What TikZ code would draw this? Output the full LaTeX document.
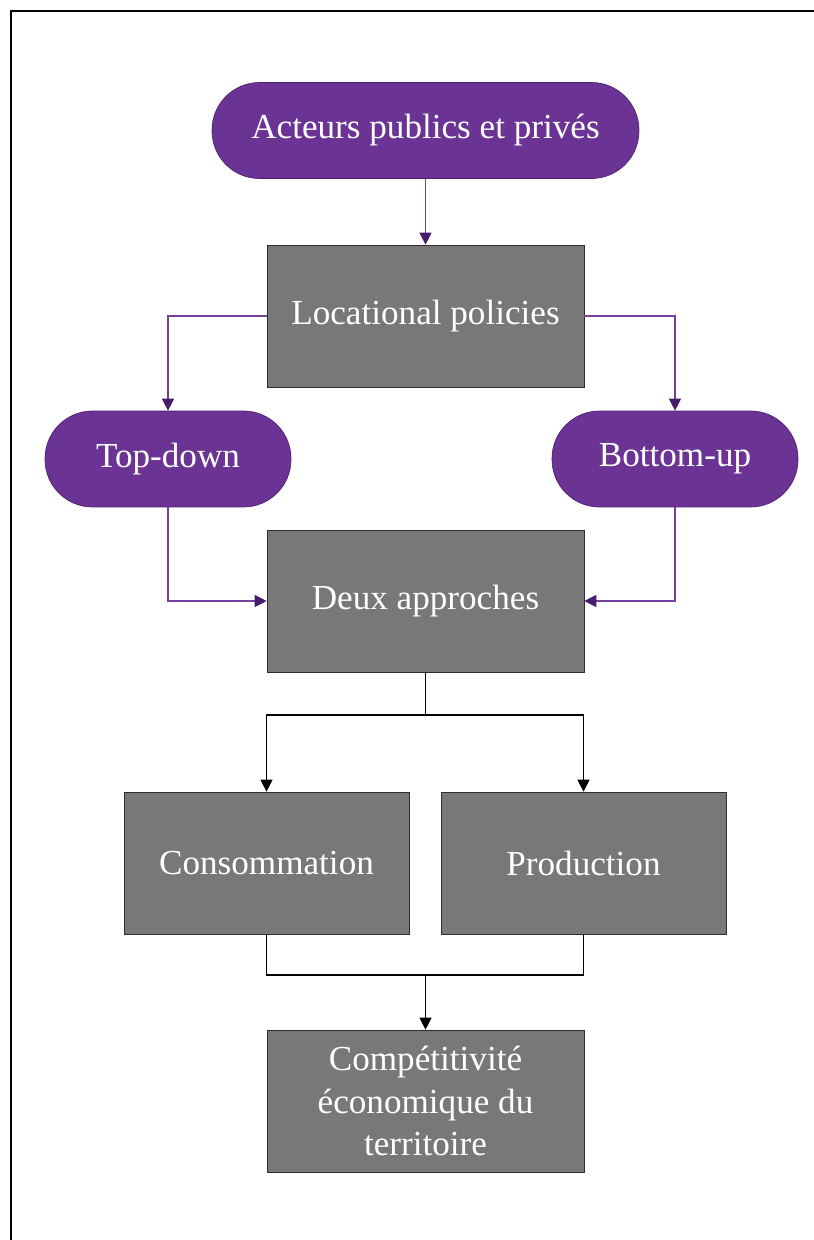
\documentclass[tikz,border=0pt]{standalone}
\usepackage{fontspec}
\setmainfont{Liberation Serif}
\usetikzlibrary{arrows.meta}
\definecolor{pillfill}{RGB}{107,52,148}
\definecolor{pilldraw}{RGB}{78,32,115}
\definecolor{boxfill}{RGB}{120,120,120}
\definecolor{boxdraw}{RGB}{45,45,45}
\definecolor{purpleline}{RGB}{115,64,155}
\definecolor{purpletip}{RGB}{72,28,108}

\begin{document}
\begin{tikzpicture}[x=0.02cm,y=-0.02cm,line join=miter,
  every node/.style={font=\fontsize{20}{24}\selectfont,text=white},
  pill/.style={draw=pilldraw,fill=pillfill,rounded corners=0.95cm,
    minimum height=1.92cm,inner sep=0pt},
  box/.style={draw=boxdraw,fill=boxfill,minimum width=6.34cm,
    minimum height=2.84cm,inner sep=0pt,align=center},
  plink/.style={draw=purpleline,line width=0.7pt,
    -{Triangle[length=6.8pt,width=6.8pt,color=purpletip]}},
  blink/.style={draw=black,line width=0.7pt,
    -{Triangle[length=6.8pt,width=6.8pt]}}]
  \useasboundingbox (0,0) rectangle (814,1240);
  % page frame (only top and left edges show)
  \draw[line width=1.7pt] (11,1260) -- (11,11) -- (830,11);

  % actors and the two approaches
  \node[pill,minimum width=8.54cm] (acteurs) at (425.5,130.5) {Acteurs publics et privés};
  \node[box] (policies) at (425.5,316) {Locational policies};
  \node[pill,minimum width=4.92cm] (topdown) at (168,459) {Top-down};
  \node[pill,minimum width=4.92cm] (bottomup) at (675,459) {Bottom-up};
  \node[box] (approches) at (425.5,601) {Deux approches};

  % consumption / production and the outcome
  \node[box,minimum width=5.7cm] (conso) at (266.5,863) {Consommation};
  \node[box,minimum width=5.7cm] (prod) at (583.5,863) {Production};
  \node[box] (compet) at (425.5,1101) {Compétitivité\\économique du\\territoire};
  \coordinate (split) at (425.5,715);
  \coordinate (join) at (425.5,975);

  % purple links
  \draw[plink] (acteurs) -- (policies);
  \draw[plink] (policies.west) -| (topdown.north);
  \draw[plink] (policies.east) -| (bottomup.north);
  \draw[plink] (topdown.south) |- (approches.west);
  \draw[plink] (bottomup.south) |- (approches.east);

  % black links
  \draw[line width=0.7pt] (approches.south) -- (split);
  \draw[blink] (split) -| (conso.north);
  \draw[blink] (split) -| (prod.north);
  \draw[line width=0.7pt] (conso.south) |- (join) -| (prod.south);
  \draw[blink] (join) -- (compet);
\end{tikzpicture}
\end{document}
